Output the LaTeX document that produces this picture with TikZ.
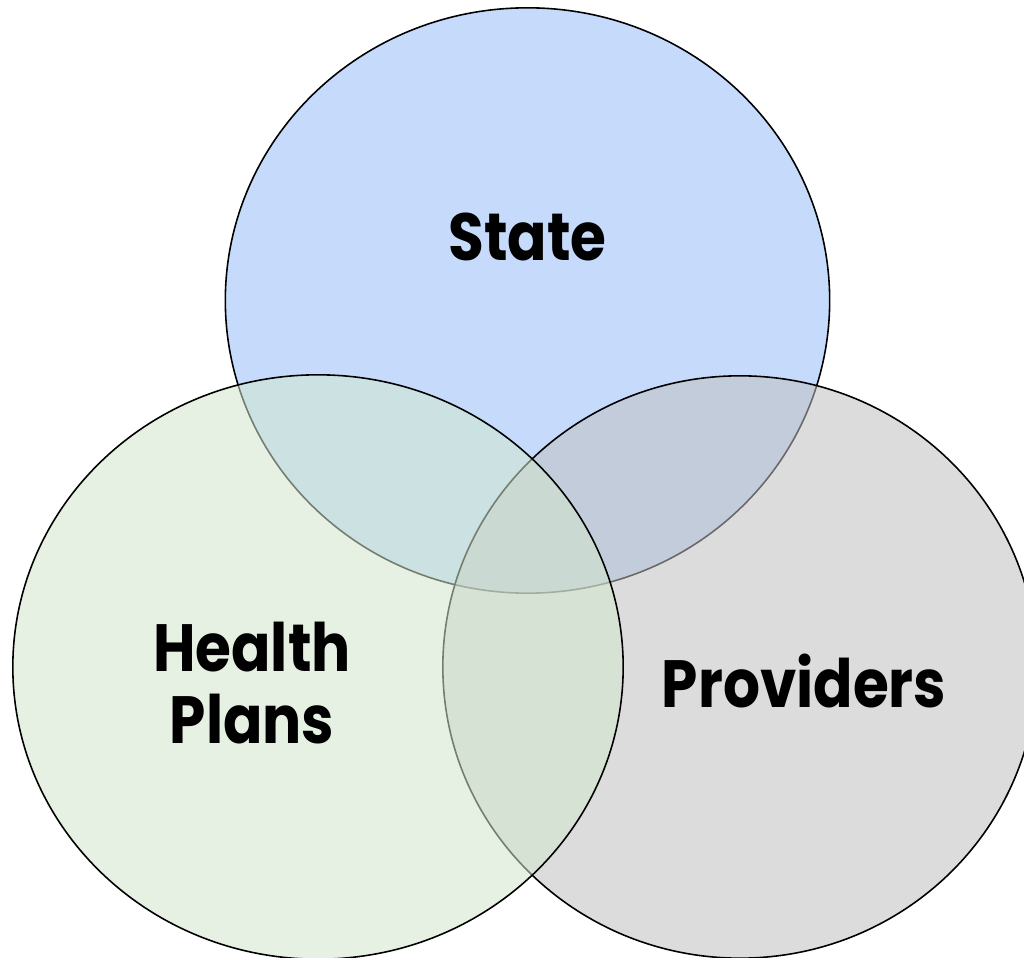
\documentclass[tikz,border=0pt]{standalone}
\usepackage{fontspec}
\setmainfont{Poppins}[FakeStretch=0.87]
\definecolor{statefill}{HTML}{C6DBFC}
\definecolor{providerfill}{HTML}{C0C0C0}
\definecolor{planfill}{HTML}{D2E6CC}
\begin{document}
\begin{tikzpicture}[x=0.01cm,y=-0.01cm,
        ring/.style={draw=black,line width=0.45pt,fill opacity=0.55},
        venntext/.style={font=\bfseries\fontsize{19}{20.5}\selectfont,align=center}]
    \useasboundingbox (0,0) rectangle (1024,958);
    \clip (0,0) rectangle (1024,958);
    % the three sets
    \draw[ring,fill=statefill,fill opacity=1] (527.5,300.5) ellipse [x radius=3.02cm, y radius=2.925cm];
    \draw[ring,fill=providerfill] (740,667) ellipse [x radius=2.97cm, y radius=2.91cm];
    \draw[ring,fill=planfill] (318,667) ellipse [x radius=3.05cm, y radius=2.92cm];
    % names
    \node[venntext] (state) at (527.5,237) {State};
    \node[venntext] (plans) at (252,683) {Health\\Plans};
    \node[venntext] (providers) at (804,681) {Providers};
\end{tikzpicture}
\end{document}
